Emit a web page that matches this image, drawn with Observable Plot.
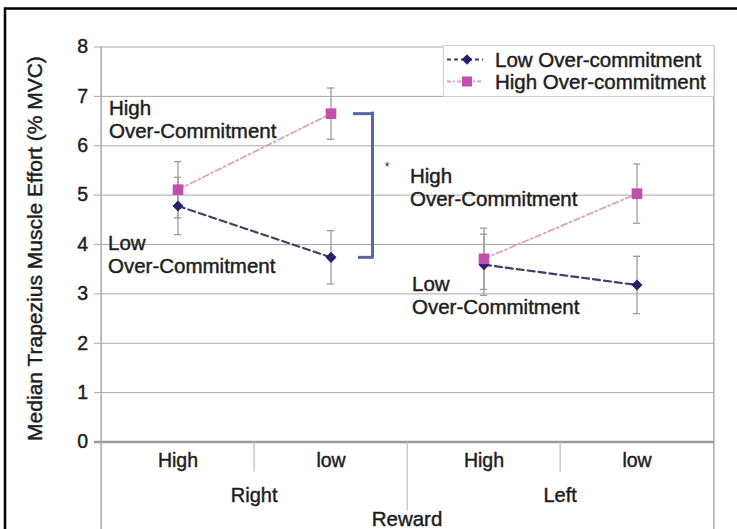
<!DOCTYPE html>
<html>
<head>
<meta charset="utf-8">
<script src="https://cdn.jsdelivr.net/npm/d3@7"></script>
<script src="https://cdn.jsdelivr.net/npm/@observablehq/plot@0.6"></script>
<style>
  body { margin: 0; background: #fff; }
  #chart { position: relative; width: 737px; height: 529px; }
</style>
</head>
<body>
<div id="chart"></div>
<script>
// Side x reward conditions
const sides = ["Right", "Right", "Left", "Left"];
const rewards = ["High", "low", "High", "low"];
const groups = ["Right", "Left"];

// Median trapezius effort (% MVC) and error-bar half-widths
const lowOC = [4.78, 3.74, 3.59, 3.18];
const lowOCErr = [0.58, 0.54, 0.62, 0.58];
const highOC = [5.11, 6.65, 3.71, 5.03];
const highOCErr = [0.57, 0.52, 0.62, 0.60];

const seriesNames = ["Low Over-commitment", "High Over-commitment"];
const yTicks = [0, 1, 2, 3, 4, 5, 6, 7, 8];
const yLabel = "Median Trapezius Muscle Effort (% MVC)";
const xTitle = "Reward";

// In-plot notes: text, condition index, value of the first line's top
const noteText = ["High\nOver-Commitment", "Low\nOver-Commitment", "High\nOver-Commitment", "Low\nOver-Commitment"];
const noteCond = [0, 0, 2, 2];
const noteY = [6.96, 4.23, 5.58, 3.40];
const starY = 5.63;

const W = 737, H = 529;
const mL = 99, mR = 23, mT = 46.5, mB = 87.5;
const bw = (W - mL - mR) / sides.length;
const font = "'Liberation Sans', Arial, sans-serif";
const ink = "#1e1e1e";
const inkStroke = {stroke: ink, strokeWidth: 0.45};
const gridColor = "#a9a9a9";
const errColor = "#9c9c9c";
const lowColor = "#2c1d6e", lowLine = "#3e3e66";
const highColor = "#c24fad", highLine = "#d9a2cc";
const bracketColor = "#5568a2";

const cats = sides.map((s, i) => s + " " + rewards[i]);
const rows = cats.map((c, i) => ({
  cat: c, side: sides[i], reward: rewards[i],
  low: lowOC[i], lowErr: lowOCErr[i], high: highOC[i], highErr: highOCErr[i]
}));
const caps = rows.flatMap(d => [
  {cat: d.cat, y: d.low - d.lowErr}, {cat: d.cat, y: d.low + d.lowErr},
  {cat: d.cat, y: d.high - d.highErr}, {cat: d.cat, y: d.high + d.highErr}
]);
const notes = noteText.map((t, i) => ({text: t, cat: cats[noteCond[i]], y: noteY[i]}));
const noteDx = [-69, -70, -74, -72];

const chart = Plot.plot({
  width: W, height: H,
  marginLeft: mL, marginRight: mR, marginTop: mT, marginBottom: mB,
  style: {fontFamily: font, background: "white", color: ink, overflow: "visible"},
  x: {type: "band", domain: cats, padding: 0, axis: null},
  y: {domain: [0, 8], axis: null},
  marks: [
    // horizontal grid with short tick stubs on the left
    Plot.ruleY(yTicks.filter(d => d > 0), {y: d => d, stroke: gridColor, strokeWidth: 1, insetLeft: -5}),
    Plot.ruleY([0], {y: d => d, stroke: "#9a9a9a", strokeWidth: 2.5, insetLeft: -5}),
    // plot edges running down through the category axis
    Plot.ruleX([cats[0]], {x: d => d, dx: -bw / 2, stroke: "#aaa", strokeWidth: 1.5, insetBottom: -mB}),
    Plot.ruleX([cats[cats.length - 1]], {x: d => d, dx: bw / 2, stroke: "#aaa", strokeWidth: 1.5, insetBottom: -mB}),
    // category separators below the axis
    Plot.ruleX([cats[1], cats[3]], {x: d => d, dx: -bw / 2, stroke: "#bdbdbd", strokeWidth: 1.2, insetTop: H - mT - mB, insetBottom: -30}),
    Plot.ruleX([cats[2]], {x: d => d, dx: -bw / 2, stroke: "#bdbdbd", strokeWidth: 1.2, insetTop: H - mT - mB, insetBottom: -69}),
    // y tick labels
    Plot.text(yTicks, {y: d => d, text: d => String(d), frameAnchor: "left", dx: -11.5, textAnchor: "end", fontSize: 19.5, fill: ink, ...inkStroke}),
    // y axis title
    Plot.text([yLabel], {text: d => d, frameAnchor: "left", textAnchor: "middle", rotate: -90, dx: -64, dy: 4, fontSize: 21, fill: ink, ...inkStroke}),
    // category labels and group labels
    Plot.text(cats, {x: d => d, text: (d, i) => rewards[i], frameAnchor: "bottom", lineAnchor: "middle", dy: 19, fontSize: 19.5, fill: ink, ...inkStroke}),
    Plot.text(groups, {x: g => cats[sides.indexOf(g) + 1], text: d => d, dx: -bw / 2, frameAnchor: "bottom", lineAnchor: "middle", dy: 54, fontSize: 20, fill: ink, ...inkStroke}),
    Plot.text([xTitle], {text: d => d, frameAnchor: "bottom", lineAnchor: "middle", dy: 77, fontSize: 20.5, fill: ink, ...inkStroke}),
    // error bars
    Plot.ruleX(rows, {x: "cat", y1: d => d.low - d.lowErr, y2: d => d.low + d.lowErr, stroke: errColor, strokeWidth: 1.3}),
    Plot.ruleX(rows, {x: "cat", y1: d => d.high - d.highErr, y2: d => d.high + d.highErr, stroke: errColor, strokeWidth: 1.3}),
    Plot.tickY(caps, {x: "cat", y: "y", stroke: errColor, strokeWidth: 1.3, insetLeft: bw / 2 - 4, insetRight: bw / 2 - 4}),
    // series lines, one segment per side
    Plot.line(rows, {x: "cat", y: "low", z: "side", stroke: lowLine, strokeWidth: 2.2, strokeDasharray: "7,4"}),
    Plot.line(rows, {x: "cat", y: "high", z: "side", stroke: highLine, strokeWidth: 1.8, strokeDasharray: "6,3,2,3"}),
    Plot.dot(rows, {x: "cat", y: "low", symbol: "diamond2", r: 5, fill: lowColor, stroke: null}),
    Plot.dot(rows, {x: "cat", y: "high", symbol: "square", r: 6, fill: highColor, stroke: null}),
    // significance bracket between the two groups at Right / low reward
    Plot.tickY([rows[1]], {x: "cat", y: "high", stroke: bracketColor, strokeWidth: 3, insetLeft: 99, insetRight: 34}),
    Plot.tickY([rows[1]], {x: "cat", y: "low", stroke: bracketColor, strokeWidth: 3, insetLeft: 104, insetRight: 34}),
    Plot.ruleX([rows[1]], {x: "cat", y1: "low", y2: "high", dx: 41.5, stroke: bracketColor, strokeWidth: 3, strokeLinecap: "square"}),
    Plot.text(["*"], {x: () => cats[1], y: () => starY, text: d => d, dx: 56, dy: 3, fontSize: 12, fill: ink}),
    // in-plot notes
    ...notes.map((n, i) => Plot.text([n], {x: "cat", y: "y", text: "text", dx: noteDx[i], textAnchor: "start", lineAnchor: "top", lineHeight: 1.14, fontSize: 20.5, fill: ink, ...inkStroke}))
  ]
});

const svg = d3.select(chart);

// legend box in the upper right of the plot
const legend = svg.append("g")
  .attr("font-family", font).attr("font-size", 20.5).attr("text-anchor", "start");
legend.append("rect").attr("x", 443.5).attr("y", 45.5).attr("width", 270.5).attr("height", 51)
  .attr("fill", "white").attr("stroke", "#cfcfcf").attr("stroke-width", 1);
const legendStyles = [
  {line: lowLine, dash: "4,3", width: 2, symbol: d3.symbolDiamond2, size: 70, fill: lowColor},
  {line: highLine, dash: "4,2,2,2", width: 1.8, symbol: d3.symbolSquare, size: 100, fill: highColor}
];
seriesNames.forEach((name, i) => {
  const cy = 59.5 + i * 22;
  const s = legendStyles[i];
  legend.append("line").attr("x1", 447).attr("x2", 483).attr("y1", cy).attr("y2", cy)
    .attr("stroke", s.line).attr("stroke-width", s.width).attr("stroke-dasharray", s.dash);
  legend.append("path").attr("d", d3.symbol(s.symbol, s.size)()).attr("transform", `translate(467,${cy})`).attr("fill", s.fill);
  legend.append("text").attr("x", 495).attr("y", cy).attr("dy", "0.35em")
    .attr("fill", ink).attr("stroke", ink).attr("stroke-width", 0.45).text(name);
});

// outer figure border (top and left)
svg.append("path").attr("d", "M5,529V8.5H737").attr("fill", "none").attr("stroke", "#000").attr("stroke-width", 2.5);

document.getElementById("chart").appendChild(chart);
</script>
</body>
</html>
